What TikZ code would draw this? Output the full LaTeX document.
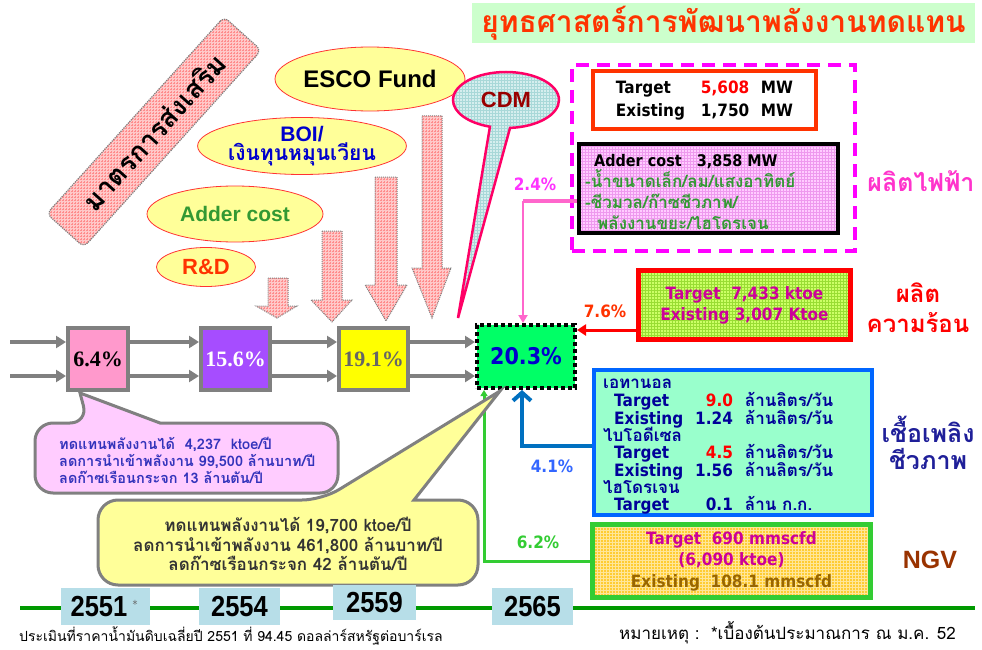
\documentclass[tikz,border=0pt]{standalone}
\usepackage{fontspec}
\setmainfont{DejaVu Sans}
\newfontfamily\thf[Script=Thai]{Loma}
\newfontfamily\tah[FakeStretch=0.9]{DejaVu Sans}
\newfontfamily\arf{Liberation Sans}
\newfontfamily\srf{Liberation Serif}
\usetikzlibrary{patterns,shapes.geometric,shapes.callouts,arrows.meta}
\newcommand\fs[2]{\fontsize{#1}{#2}\selectfont}
\newcommand\thsm[1]{\smash{\thf\bfseries #1}}
\definecolor{titlebg}{HTML}{CCFFCC}
\definecolor{titlered}{HTML}{FF3300}
\definecolor{promopink}{HTML}{FFC8C8}
\definecolor{promogrid}{HTML}{FF8C8C}
\definecolor{ellyellow}{HTML}{FFFF99}
\definecolor{ellred}{HTML}{FF3333}
\definecolor{boiblue}{HTML}{0000CC}
\definecolor{addgreen}{HTML}{339933}
\definecolor{cdmfill}{HTML}{D5EEEE}
\definecolor{cdmgrid}{HTML}{A8D8D8}
\definecolor{cdmred}{HTML}{FF0066}
\definecolor{cdmtext}{HTML}{990000}
\definecolor{magframe}{HTML}{FF00FF}
\definecolor{adderpink}{HTML}{FFCCFF}
\definecolor{addergrid}{HTML}{EE99EE}
\definecolor{eleclabel}{HTML}{FF33CC}
\definecolor{pinkc}{HTML}{FF66CC}
\definecolor{ptf}{HTML}{FF33FF}
\definecolor{boxgrey}{HTML}{808080}
\definecolor{fillA}{HTML}{FF99CC}
\definecolor{fillB}{HTML}{A64DFF}
\definecolor{fillC}{HTML}{FFFF00}
\definecolor{textC}{HTML}{666666}
\definecolor{fillD}{HTML}{00FF66}
\definecolor{heatfill}{HTML}{CCFF66}
\definecolor{heatgrid}{HTML}{99DD33}
\definecolor{heattext}{HTML}{CC0099}
\definecolor{biofill}{HTML}{99FFCC}
\definecolor{bioblue}{HTML}{0066FF}
\definecolor{navy}{HTML}{000099}
\definecolor{biolabel}{HTML}{1F1F99}
\definecolor{bluept}{HTML}{3366FF}
\definecolor{bluearr}{HTML}{0070C0}
\definecolor{ngvfill}{HTML}{FFCC33}
\definecolor{ngvgrid}{HTML}{FFE699}
\definecolor{ngvgreen}{HTML}{33CC33}
\definecolor{ngvbrown}{HTML}{996600}
\definecolor{ngvlabel}{HTML}{993300}
\definecolor{callpink}{HTML}{FFCCFF}
\definecolor{calltext}{HTML}{3333BB}
\definecolor{yearblue}{HTML}{B7DEE8}
\definecolor{linegreen}{HTML}{009900}
\definecolor{numred}{HTML}{FF0000}
\begin{document}
\begin{tikzpicture}[x=1pt,y=-1pt,
  gridded/.style 2 args={preaction={fill=#1}, pattern=grid, pattern color=#2},
  ellip/.style={ellipse, draw=ellred, line width=0.8pt, fill=ellyellow, inner sep=0pt},
  downarr/.style={draw=boxgrey, densely dotted, line width=1pt, gridded={promopink}{promogrid}},
  rowbox/.style={draw=boxgrey, line width=4pt, minimum height=62pt, inner sep=0pt, font=\srf\bfseries\fs{22}{22}},
  rowarrow/.style={draw=boxgrey, line width=3.5pt, -{Triangle[length=10pt,width=12pt]}},
  yearbox/.style={fill=yearblue, inner sep=0pt, minimum height=37pt},
  yeartxt/.style={inner sep=0pt, xscale=0.88, font=\arf\bfseries\fs{29}{29}},
  pct/.style={inner sep=0pt, font=\tah\bfseries\fs{17}{17}},
  thlabel/.style={inner sep=0pt, align=center, font=\thf\bfseries\fs{25}{29}}]
\useasboundingbox (0,0) rectangle (982,650);
\fill[white] (0,0) rectangle (982,650);

% title
\node[fill=titlebg, minimum width=503pt, minimum height=40pt, inner sep=0pt] (title) at (723.5,23)
  {\thf\bfseries\fs{30}{30}\color{titlered}ยุทธศาสตร์การพัฒนาพลังงานทดแทน};

% promotion measures
\node[rotate=48, draw=boxgrey, densely dotted, line width=1.2pt, rounded corners=6pt,
  gridded={promopink}{promogrid}, minimum width=265pt, minimum height=50pt, inner sep=0pt] (promo) at (154,132)
  {\thf\bfseries\fs{27}{27}มาตรการส่งเสริม};

% down arrows
\foreach \l/\r/\t/\hl/\hr/\hy/\tx/\ty in {268/288/278/256/297/306/277/318, 322/342/231/311/352/300/332/322, 375/397/177/365/407/285/386/321, 422/442/116/412/451/268/432/318}
  \draw[downarr] (\l,\t) -- (\r,\t) -- (\r,\hy) -- (\hr,\hy) -- (\tx,\ty) -- (\hl,\hy) -- (\l,\hy) -- cycle;

% ellipses
\node[ellip, minimum width=190pt, minimum height=64pt] (esco) at (370,79) {\arf\bfseries\fs{24}{24}ESCO Fund};
\node[ellip, minimum width=181pt, minimum height=57pt, align=center] (boi) at (302,146)
  {\arf\bfseries\color{boiblue}\fs{21}{26}BOI/\\\thf\bfseries\fs{21}{26}\color{boiblue}เงินทุนหมุนเวียน};
\node[ellip, minimum width=176pt, minimum height=56pt] (addere) at (235,214) {\arf\bfseries\color{addgreen}\fs{21}{21}Adder cost};
\node[ellip, minimum width=99pt, minimum height=39pt] (rd) at (206,267) {\arf\bfseries\color{titlered}\fs{22}{22}R\&D};

% CDM callout
\node[ellipse callout, draw=cdmred, line width=2.5pt, gridded={cdmfill}{cdmgrid}, minimum width=106pt, minimum height=56pt,
  inner sep=0pt, callout absolute pointer={(458,318)}, callout pointer arc=22] (cdm) at (506,100)
  {\arf\bfseries\color{cdmtext}\fs{22}{22}CDM};

% electricity frame
\node[draw=magframe, line width=4pt, dash pattern=on 13pt off 8pt, minimum width=283pt, minimum height=186pt] (elecframe) at (713.5,158) {};
\node[draw=titlered, fill=white, line width=4pt, minimum width=223pt, minimum height=58pt, inner sep=0pt] (tgt) at (704.5,100)
  {\tah\bfseries\fs{17}{23}\begin{tabular}{@{}p{85pt}@{}p{60pt}@{}l@{}}Target & \textcolor{numred}{5,608} & MW\\ Existing & 1,750 & MW\end{tabular}};
\node[draw=black, line width=4pt, gridded={adderpink}{addergrid}, minimum width=259pt, minimum height=89pt, inner sep=0pt] (adder) at (708.5,188.5) {};
\node[anchor=west, align=left, inner sep=0pt, font=\thf\bfseries\fs{17}{21}, text=addgreen] (addertxt) at (585,191.5)
  {\hspace*{9pt}{\tah\bfseries\fs{16}{21}\color{black}Adder cost\ \ \ 3,858 MW}\\
   -น้ำขนาดเล็ก/ลม/แสงอาทิตย์\\
   -ชีวมวล/ก๊าซชีวภาพ/\\
   \hspace*{12pt}พลังงานขยะ/ไฮโดรเจน};
\node[thlabel, text=eleclabel] (elecl) at (921,181) {ผลิตไฟฟ้า};
\node[pct, text=ptf] (p24) at (535,184) {2.4\%};

% main row
\node[rowbox, fill=fillA, minimum width=60pt] (b1) at (98,359) {6.4\%};
\node[rowbox, fill=fillB, minimum width=69pt, text=white] (b2) at (235.5,359) {15.6\%};
\node[rowbox, fill=fillC, minimum width=69pt, text=textC] (b3) at (373.5,359) {19.1\%};
\node[draw=black, line width=4pt, dash pattern=on 4pt off 3pt, fill=fillD, minimum width=98pt, minimum height=63pt, inner sep=0pt,
  font=\tah\bfseries\fs{23}{23}, text=boiblue] (b20) at (526,356.5) {20.3\%};
\coordinate (in1) at (10,342);
\coordinate (in2) at (10,376);
\foreach \c in {in1,in2} {
  \draw[rowarrow] (\c) -- (\c -| b1.west);
  \draw[rowarrow] (b1.east |- \c) -- (b2.west |- \c);
  \draw[rowarrow] (b2.east |- \c) -- (b3.west |- \c);
  \draw[rowarrow] (b3.east |- \c) -- (b20.west |- \c);
}

% heat
\node[draw=numred, line width=5pt, gridded={heatfill}{heatgrid}, minimum width=212pt, minimum height=69pt, inner sep=0pt,
  align=center, font=\tah\bfseries\fs{17}{21}, text=heattext] (heat) at (744.5,305) {Target\ \ 7,433 ktoe\\Existing 3,007 Ktoe};
\node[thlabel, text=numred, font=\thf\bfseries\fs{24}{30}] (heatl) at (918,308) {ผลิต\\ความร้อน};
\node[pct, text=titlered] (p76) at (605,311) {7.6\%};

% biofuel
\node[draw=bioblue, line width=4pt, fill=biofill, minimum width=278pt, minimum height=145pt, inner sep=0pt] (bio) at (733,442.5) {};
\node[anchor=west, inner sep=0pt, text=navy] (biotxt) at (603,446.5)
  {\tah\bfseries\fs{17}{16.7}\begin{tabular}{@{}p{92pt}@{}r@{\hspace{12pt}}l@{}}
  \multicolumn{3}{@{}l}{\thsm{เอทานอล}}\\
  \hspace*{11pt}Target & \textcolor{numred}{9.0} & \thsm{ล้านลิตร/วัน}\\
  \hspace*{11pt}Existing & 1.24 & \thsm{ล้านลิตร/วัน}\\
  \multicolumn{3}{@{}l}{\thsm{ไบโอดีเซล}}\\
  \hspace*{11pt}Target & \textcolor{numred}{4.5} & \thsm{ล้านลิตร/วัน}\\
  \hspace*{11pt}Existing & 1.56 & \thsm{ล้านลิตร/วัน}\\
  \multicolumn{3}{@{}l}{\thsm{ไฮโดรเจน}}\\
  \hspace*{11pt}Target & 0.1 & \thsm{ล้าน ก.ก.}
  \end{tabular}};
\node[thlabel, text=biolabel, font=\thf\bfseries\fs{25}{27}] (biol) at (928,443) {เชื้อเพลิง\\ชีวภาพ};
\node[pct, text=bluept] (p41) at (552,466) {4.1\%};

% NGV
\node[draw=ngvgreen, line width=5pt, gridded={ngvfill}{ngvgrid}, minimum width=278pt, minimum height=73pt, inner sep=0pt,
  align=center, font=\tah\bfseries\fs{17}{21.5}, text=heattext] (ngv) at (731.5,561)
  {Target\ \ 690 mmscfd\\(6,090 ktoe)\\\textcolor{ngvbrown}{Existing\ \ 108.1 mmscfd}};
\node[pct, text=ngvgreen] (p62) at (538,542) {6.2\%};
\node[inner sep=0pt, font=\arf\bfseries\fs{25}{25}, text=ngvlabel] (ngvl) at (930,560) {NGV};

% connectors into 20.3%
\coordinate (pk) at (523,201);
\draw[line width=4pt, pinkc] (adder.west |- pk) -- (pk);
\draw[line width=2pt, pinkc, -{Triangle[length=8pt,width=9pt]}] (pk) -- (pk |- b20.north);
\coordinate (rc) at (600,330);
\draw[line width=3pt, numred, -{Triangle[length=9pt,width=11pt]}] (heat.west |- rc) -- (b20.east |- rc);
\coordinate (bc) at (522,446);
\draw[line width=4pt, bluearr, -{Straight Barb[length=8pt,width=18pt]}] (bio.west |- bc) -- (bc) -- (bc |- b20.south);
\coordinate (gc) at (484,561);
\draw[line width=3pt, ngvgreen, -{Triangle[length=6pt,width=7pt]}] (ngv.west |- gc) -- (gc) -- (gc |- b20.south);

% callouts
\coordinate (ptip) at (80,393);
\draw[draw=boxgrey, line width=3pt, fill=callpink] (88,423) -- (ptip) -- (160,423) [rounded corners=18pt] -- (338,423) -- (338,493) -- (35,493) -- (35,423) -- cycle;
\node[anchor=west, align=left, inner sep=0pt, text=calltext, font=\thf\bfseries\fs{14.5}{17}] (pinktxt) at (59,460)
  {ทดแทนพลังงานได้\ \ 4,237\ \ ktoe/ปี\\ลดการนำเข้าพลังงาน 99,500 ล้านบาท/ปี\\ลดก๊าซเรือนกระจก 13 ล้านตัน/ปี};
\coordinate (ytip) at (500,391);
\draw[draw=boxgrey, line width=3pt, fill=ellyellow] (322,500) -- (ytip) -- (414,500) [rounded corners=20pt] -- (478,500) -- (478,585) -- (98,585) -- (98,500) -- cycle;
\node[align=center, inner sep=0pt, text=black!80, font=\thf\bfseries\fs{17}{19.5}] (yeltxt) at (288,544)
  {ทดแทนพลังงานได้ 19,700 ktoe/ปี\\ลดการนำเข้าพลังงาน 461,800 ล้านบาท/ปี\\ลดก๊าซเรือนกระจก 42 ล้านตัน/ปี};

% timeline
\coordinate (tl1) at (20,608);
\coordinate (tl2) at (975,608);
\draw[line width=4pt, linegreen] (tl1) -- (tl2);
\node[yearbox, minimum width=89pt] (y1) at (105.5,606.5) {};
\node[yeartxt] (y1t) at (99,606.5) {2551};
\node[inner sep=0pt, font=\tah\fs{11}{11}, text=black!60] (y1s) at (135,604) {*};
\node[yearbox, minimum width=81pt] (y2) at (239.5,606.5) {};
\node[yeartxt] (y2t) at (y2) {2554};
\node[yearbox, minimum width=83pt, minimum height=35pt] (y3) at (374.5,602.5) {};
\node[yeartxt] (y3t) at (y3) {2559};
\node[yearbox, minimum width=81pt] (y4) at (532.5,606.5) {};
\node[yeartxt] (y4t) at (y4) {2565};

% notes
\node[anchor=west, inner sep=0pt, font=\thf\fs{14}{14}] (note1) at (19,636) {ประเมินที่ราคาน้ำมันดิบเฉลี่ยปี 2551 ที่ 94.45 ดอลล่าร์สหรัฐต่อบาร์เรล};
\node[anchor=west, inner sep=0pt, font=\thf\fs{17}{17}] (note2) at (619,633) {หมายเหตุ :\ \ *เบื้องต้นประมาณการ ณ ม.ค. 52};
\end{tikzpicture}
\end{document}
